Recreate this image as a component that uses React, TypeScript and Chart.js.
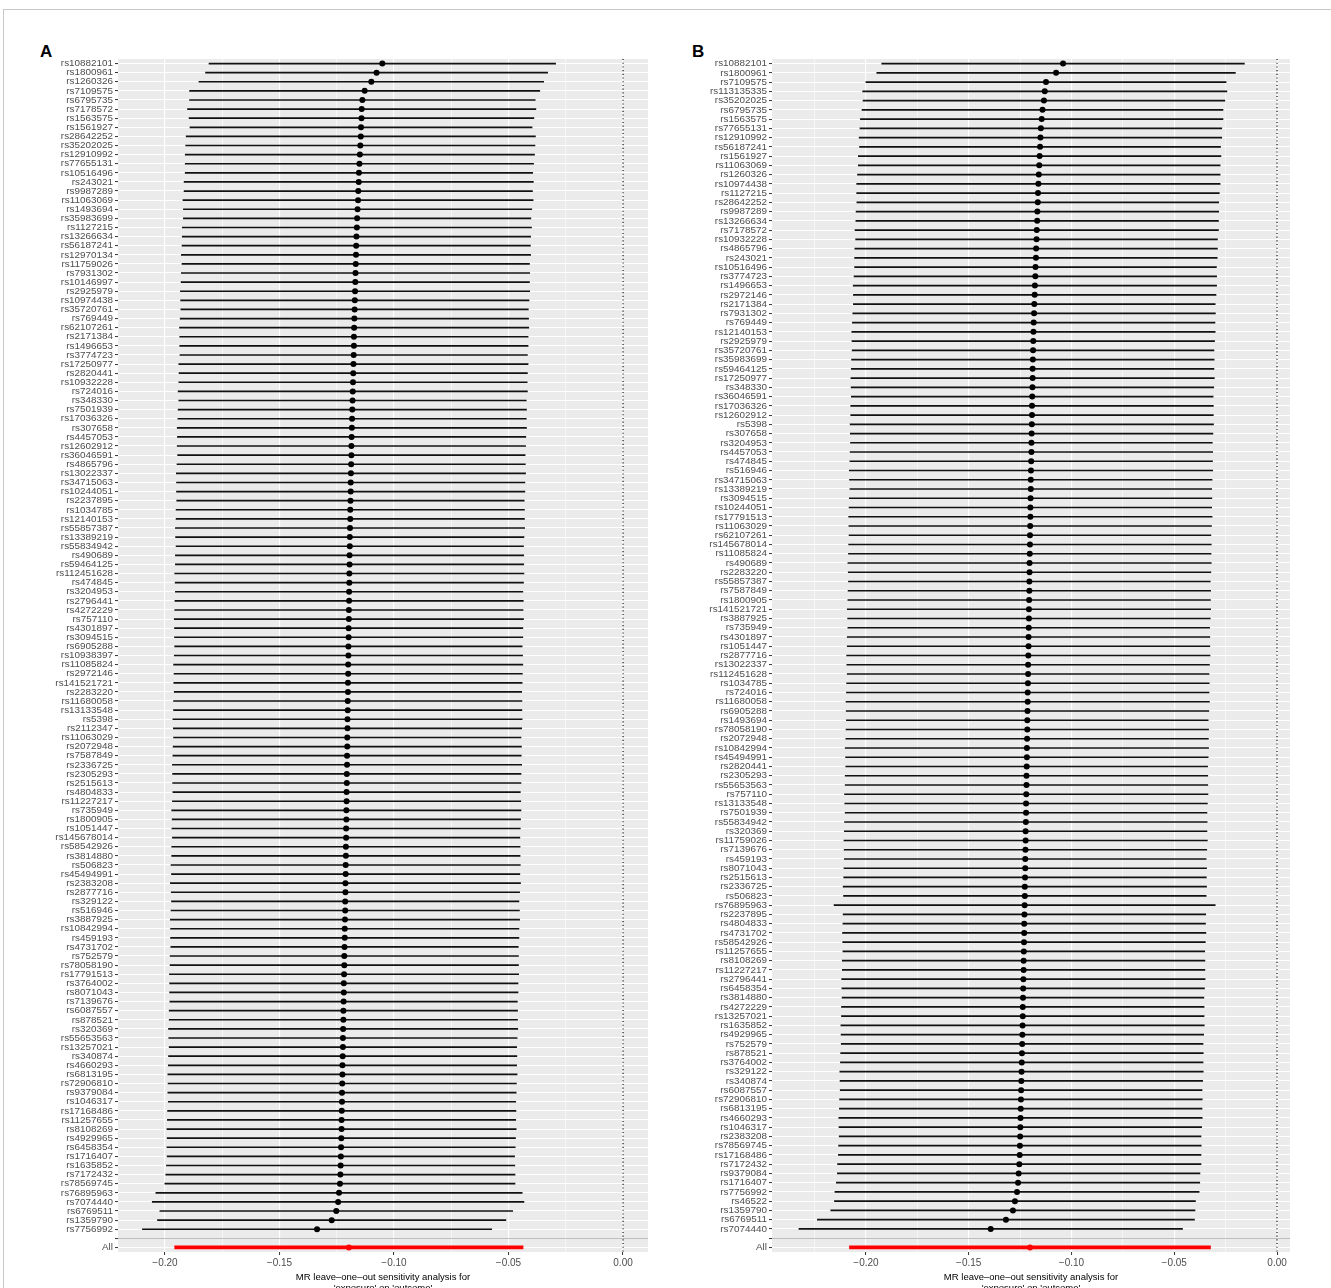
import React, { useEffect, useRef } from 'react';
import { Chart, registerables } from 'chart.js';
Chart.register(...registerables);

const FONT = '"Liberation Sans", Arial, Helvetica, sans-serif';
Chart.defaults.font.family = FONT;

const snpsA = ['rs10882101','rs1800961','rs1260326','rs7109575','rs6795735','rs7178572','rs1563575','rs1561927','rs28642252','rs35202025','rs12910992','rs77655131','rs10516496','rs243021','rs9987289','rs11063069','rs1493694','rs35983699','rs1127215','rs13266634','rs56187241','rs12970134','rs11759026','rs7931302','rs10146997','rs2925979','rs10974438','rs35720761','rs769449','rs62107261','rs2171384','rs1496653','rs3774723','rs17250977','rs2820441','rs10932228','rs724016','rs348330','rs7501939','rs17036326','rs307658','rs4457053','rs12602912','rs36046591','rs4865796','rs13022337','rs34715063','rs10244051','rs2237895','rs1034785','rs12140153','rs55857387','rs13389219','rs55834942','rs490689','rs59464125','rs112451628','rs474845','rs3204953','rs2796441','rs4272229','rs757110','rs4301897','rs3094515','rs6905288','rs10938397','rs11085824','rs2972146','rs141521721','rs2283220','rs11680058','rs13133548','rs5398','rs2112347','rs11063029','rs2072948','rs7587849','rs2336725','rs2305293','rs2515613','rs4804833','rs11227217','rs735949','rs1800905','rs1051447','rs145678014','rs58542926','rs3814880','rs506823','rs45494991','rs2383208','rs2877716','rs329122','rs516946','rs3887925','rs10842994','rs459193','rs4731702','rs752579','rs78058190','rs17791513','rs3764002','rs8071043','rs7139676','rs6087557','rs878521','rs320369','rs55653563','rs13257021','rs340874','rs4660293','rs6813195','rs72906810','rs9379084','rs1046317','rs17168486','rs11257655','rs8108269','rs4929965','rs6458354','rs1716407','rs1635852','rs7172432','rs78569745','rs76895963','rs7074440','rs6769511','rs1359790','rs7756992'];

const betaA = [-0.1051,-0.1076,-0.1099,-0.1128,-0.1138,-0.1141,-0.1142,-0.1144,-0.1145,-0.1147,
-0.1149,-0.1151,-0.1153,-0.1154,-0.1156,-0.1157,-0.1159,-0.1161,-0.1162,-0.1164,
-0.1165,-0.1166,-0.1167,-0.1168,-0.1169,-0.1170,-0.1171,-0.1172,-0.1173,-0.1174,
-0.1175,-0.1175,-0.1176,-0.1177,-0.1178,-0.1179,-0.1180,-0.1181,-0.1182,-0.1183,
-0.1184,-0.1185,-0.1186,-0.1186,-0.1187,-0.1188,-0.1189,-0.1189,-0.1190,-0.1191,
-0.1191,-0.1192,-0.1193,-0.1193,-0.1194,-0.1194,-0.1195,-0.1195,-0.1196,-0.1196,
-0.1197,-0.1197,-0.1198,-0.1198,-0.1199,-0.1199,-0.1200,-0.1200,-0.1201,-0.1201,
-0.1202,-0.1202,-0.1203,-0.1203,-0.1204,-0.1204,-0.1205,-0.1205,-0.1206,-0.1206,
-0.1207,-0.1207,-0.1208,-0.1208,-0.1209,-0.1209,-0.1210,-0.1210,-0.1211,-0.1211,
-0.1212,-0.1212,-0.1213,-0.1213,-0.1214,-0.1215,-0.1215,-0.1216,-0.1217,-0.1217,
-0.1218,-0.1219,-0.1219,-0.1220,-0.1221,-0.1221,-0.1222,-0.1223,-0.1223,-0.1224,
-0.1225,-0.1225,-0.1226,-0.1227,-0.1227,-0.1228,-0.1229,-0.1229,-0.1230,-0.1231,
-0.1232,-0.1233,-0.1234,-0.1236,-0.1240,-0.1244,-0.1252,-0.1272,-0.1336];

const seA = [0.0386,0.0381,0.0384,0.0390,0.0385,0.0388,0.0384,0.0381,0.0389,0.0389,
0.0389,0.0388,0.0387,0.0389,0.0388,0.0390,0.0388,0.0387,0.0389,0.0388,
0.0388,0.0389,0.0387,0.0388,0.0388,0.0389,0.0388,0.0387,0.0388,0.0389,
0.0388,0.0388,0.0387,0.0389,0.0388,0.0388,0.0389,0.0387,0.0388,0.0388,
0.0389,0.0388,0.0388,0.0387,0.0388,0.0389,0.0388,0.0388,0.0387,0.0388,
0.0388,0.0389,0.0388,0.0387,0.0388,0.0388,0.0389,0.0388,0.0387,0.0388,
0.0388,0.0389,0.0388,0.0388,0.0387,0.0388,0.0389,0.0388,0.0388,0.0387,
0.0388,0.0388,0.0389,0.0388,0.0387,0.0388,0.0388,0.0389,0.0388,0.0388,
0.0387,0.0388,0.0389,0.0388,0.0388,0.0387,0.0388,0.0388,0.0389,0.0388,
0.0390,0.0388,0.0387,0.0388,0.0389,0.0388,0.0388,0.0387,0.0388,0.0388,
0.0389,0.0388,0.0388,0.0387,0.0388,0.0388,0.0389,0.0388,0.0387,0.0388,
0.0388,0.0389,0.0388,0.0388,0.0387,0.0388,0.0388,0.0389,0.0388,0.0388,
0.0387,0.0388,0.0389,0.0390,0.0408,0.0414,0.0393,0.0388,0.0389];

const allBetaA = -0.1197;
const allSeA = 0.0388;

const snpsB = ['rs10882101','rs1800961','rs7109575','rs113135335','rs35202025','rs6795735','rs1563575','rs77655131','rs12910992','rs56187241','rs1561927','rs11063069','rs1260326','rs10974438','rs1127215','rs28642252','rs9987289','rs13266634','rs7178572','rs10932228','rs4865796','rs243021','rs10516496','rs3774723','rs1496653','rs2972146','rs2171384','rs7931302','rs769449','rs12140153','rs2925979','rs35720761','rs35983699','rs59464125','rs17250977','rs348330','rs36046591','rs17036326','rs12602912','rs5398','rs307658','rs3204953','rs4457053','rs474845','rs516946','rs34715063','rs13389219','rs3094515','rs10244051','rs17791513','rs11063029','rs62107261','rs145678014','rs11085824','rs490689','rs2283220','rs55857387','rs7587849','rs1800905','rs141521721','rs3887925','rs735949','rs4301897','rs1051447','rs2877716','rs13022337','rs112451628','rs1034785','rs724016','rs11680058','rs6905288','rs1493694','rs78058190','rs2072948','rs10842994','rs45494991','rs2820441','rs2305293','rs55653563','rs757110','rs13133548','rs7501939','rs55834942','rs320369','rs11759026','rs7139676','rs459193','rs8071043','rs2515613','rs2336725','rs506823','rs76895963','rs2237895','rs4804833','rs4731702','rs58542926','rs11257655','rs8108269','rs11227217','rs2796441','rs6458354','rs3814880','rs4272229','rs13257021','rs1635852','rs4929965','rs752579','rs878521','rs3764002','rs329122','rs340874','rs6087557','rs72906810','rs6813195','rs4660293','rs1046317','rs2383208','rs78569745','rs17168486','rs7172432','rs9379084','rs1716407','rs7756992','rs46522','rs1359790','rs6769511','rs7074440'];

const betaB = [-0.1041,-0.1075,-0.1124,-0.1130,-0.1134,-0.1141,-0.1145,-0.1149,-0.1151,-0.1153,
-0.1155,-0.1157,-0.1159,-0.1161,-0.1163,-0.1164,-0.1166,-0.1167,-0.1169,-0.1170,
-0.1172,-0.1173,-0.1175,-0.1176,-0.1178,-0.1179,-0.1181,-0.1182,-0.1184,-0.1185,
-0.1186,-0.1187,-0.1188,-0.1189,-0.1189,-0.1190,-0.1191,-0.1192,-0.1192,-0.1193,
-0.1194,-0.1195,-0.1195,-0.1196,-0.1197,-0.1198,-0.1198,-0.1199,-0.1200,-0.1200,
-0.1201,-0.1202,-0.1202,-0.1203,-0.1204,-0.1204,-0.1205,-0.1205,-0.1206,-0.1207,
-0.1207,-0.1208,-0.1209,-0.1209,-0.1210,-0.1211,-0.1211,-0.1212,-0.1213,-0.1213,
-0.1214,-0.1215,-0.1215,-0.1216,-0.1217,-0.1217,-0.1218,-0.1219,-0.1219,-0.1220,
-0.1221,-0.1221,-0.1222,-0.1223,-0.1223,-0.1224,-0.1225,-0.1225,-0.1226,-0.1227,
-0.1227,-0.1228,-0.1229,-0.1230,-0.1230,-0.1231,-0.1232,-0.1233,-0.1233,-0.1234,
-0.1235,-0.1236,-0.1237,-0.1237,-0.1238,-0.1239,-0.1240,-0.1241,-0.1242,-0.1243,
-0.1244,-0.1245,-0.1246,-0.1247,-0.1248,-0.1249,-0.1250,-0.1251,-0.1252,-0.1254,
-0.1257,-0.1260,-0.1265,-0.1275,-0.1285,-0.1319,-0.1393];

const seB = [0.0450,0.0445,0.0447,0.0452,0.0449,0.0448,0.0450,0.0449,0.0450,0.0448,
0.0450,0.0449,0.0450,0.0451,0.0450,0.0449,0.0450,0.0450,0.0451,0.0449,
0.0450,0.0450,0.0449,0.0450,0.0451,0.0450,0.0449,0.0450,0.0450,0.0451,
0.0450,0.0449,0.0450,0.0450,0.0451,0.0450,0.0449,0.0450,0.0450,0.0451,
0.0450,0.0449,0.0450,0.0450,0.0451,0.0450,0.0449,0.0450,0.0450,0.0451,
0.0450,0.0449,0.0450,0.0450,0.0451,0.0450,0.0449,0.0450,0.0450,0.0451,
0.0450,0.0449,0.0450,0.0450,0.0451,0.0450,0.0449,0.0450,0.0450,0.0451,
0.0450,0.0449,0.0450,0.0450,0.0451,0.0450,0.0449,0.0450,0.0450,0.0451,
0.0450,0.0449,0.0450,0.0450,0.0451,0.0450,0.0449,0.0450,0.0450,0.0451,
0.0450,0.0473,0.0450,0.0450,0.0451,0.0450,0.0449,0.0450,0.0450,0.0451,
0.0450,0.0449,0.0450,0.0450,0.0451,0.0450,0.0449,0.0450,0.0450,0.0451,
0.0450,0.0449,0.0450,0.0450,0.0451,0.0450,0.0449,0.0450,0.0450,0.0451,
0.0450,0.0451,0.0452,0.0448,0.0452,0.0468,0.0476];

const allBetaB = -0.1202;
const allSeB = 0.0448;

const xTitle = ['MR leave\u2013one\u2013out sensitivity analysis for', "'exposure' on 'outcome'"];

const isMajor = (v: number) => Math.abs(Math.round(v / 0.05) * 0.05 - v) < 1e-7;
const fmt = (v: number) => {
  const s = Math.abs(v).toFixed(2);
  return v < -1e-9 ? '\u2212' + s : s;
};

const panelBg = {
  id: 'panelBg',
  beforeDraw(chart: any) {
    const a = chart.chartArea;
    const c = chart.ctx;
    c.save();
    c.fillStyle = '#EBEBEB';
    c.fillRect(a.left, a.top, a.right - a.left, a.bottom - a.top);
    c.restore();
  },
};

const zeroLine = {
  id: 'zeroLine',
  beforeDatasetsDraw(chart: any) {
    const a = chart.chartArea;
    const x = chart.scales.x.getPixelForValue(0);
    const c = chart.ctx;
    c.save();
    c.strokeStyle = '#000000';
    c.lineWidth = 1.1;
    c.setLineDash([1.1, 2.6]);
    c.beginPath();
    c.moveTo(x, a.top);
    c.lineTo(x, a.bottom);
    c.stroke();
    c.restore();
  },
};

type PanelProps = {
  snps: string[]; beta: number[]; se: number[]; allBeta: number; allSe: number;
  xMin: number; xMax: number; left: number; top: number; width: number; height: number;
  yWidth: number; padRight: number; padTop: number; xHeight: number;
};

function Panel(p: PanelProps) {
  const ref = useRef<HTMLCanvasElement>(null);
  useEffect(() => {
    const labels = [...p.snps, '', 'All'];
    const ranges: any[] = p.snps.map((_, i) => [p.beta[i] - 1.96 * p.se[i], p.beta[i] + 1.96 * p.se[i]]);
    const allRange = [p.allBeta - 1.96 * p.allSe, p.allBeta + 1.96 * p.allSe];
    const pointColors = [...p.snps.map(() => '#000000'), '#000000', '#FF0000'];
    const chart = new Chart(ref.current as HTMLCanvasElement, {
      type: 'bar',
      data: {
        labels,
        datasets: [
          {
            type: 'line',
            data: [...p.beta, null, p.allBeta] as any,
            showLine: false,
            pointRadius: 3,
            pointHoverRadius: 3,
            pointBorderWidth: 0,
            pointBackgroundColor: pointColors,
            order: 0,
          } as any,
          {
            type: 'bar',
            data: [...p.snps.map(() => null), null, allRange] as any,
            backgroundColor: '#FF0000',
            barThickness: 3,
            grouped: false,
            order: 1,
          } as any,
          {
            type: 'bar',
            data: [...ranges, null, null] as any,
            backgroundColor: '#111111',
            barThickness: 1,
            grouped: false,
            order: 2,
          } as any,
        ],
      },
      options: {
        animation: false,
        responsive: false,
        maintainAspectRatio: false,
        indexAxis: 'y',
        events: [],
        layout: { padding: { top: p.padTop, right: p.padRight, left: 0, bottom: 0 } },
        plugins: { legend: { display: false }, tooltip: { enabled: false }, title: { display: false } },
        scales: {
          x: {
            type: 'linear',
            min: p.xMin,
            max: p.xMax,
            border: { display: false },
            grid: {
              color: '#FFFFFF',
              lineWidth: (ctx: any) => (ctx.tick && isMajor(ctx.tick.value) ? 1.1 : 0.55),
              tickColor: (ctx: any) => (ctx.tick && isMajor(ctx.tick.value) ? '#333333' : 'rgba(0,0,0,0)'),
              tickLength: 3,
              tickWidth: 1,
            },
            ticks: {
              stepSize: 0.025,
              includeBounds: false,
              autoSkip: false,
              maxRotation: 0,
              padding: 2,
              color: '#4D4D4D',
              font: { family: FONT, size: 10 },
              callback: (v: any) => (isMajor(Number(v)) ? fmt(Number(v)) : ''),
            },
            title: {
              display: true,
              text: xTitle,
              color: '#000000',
              font: { family: FONT, size: 9.5 },
              padding: { top: 0, bottom: 8 },
            },
            afterFit: (s: any) => { s.height = p.xHeight; },
          },
          y: {
            type: 'category',
            offset: true,
            border: { display: false },
            grid: {
              offset: false,
              color: (ctx: any) => (labels[ctx.index] === '' ? '#BEBEBE' : '#FFFFFF'),
              lineWidth: 1.1,
              tickColor: '#333333',
              tickLength: 3,
              tickWidth: 1,
            },
            ticks: {
              autoSkip: false,
              padding: 2,
              color: '#4D4D4D',
              font: { family: FONT, size: 9.9 },
            },
            afterFit: (s: any) => { s.width = p.yWidth; },
          },
        },
      } as any,
      plugins: [panelBg, zeroLine],
    });
    return () => chart.destroy();
  }, []);
  return (
    <canvas
      ref={ref}
      width={p.width}
      height={p.height}
      style={{ position: 'absolute', left: p.left, top: p.top, width: p.width, height: p.height }}
    />
  );
}

export default function App() {
  return (
    <div style={{ position: 'fixed', left: 0, top: 0, width: 1331, height: 1288, overflow: 'hidden', background: '#FFFFFF' }}>
      <div style={{ position: 'absolute', left: 3, top: 9, width: 1360, height: 1320, border: '1px solid #C8C8C8' }} />
      <div style={{ position: 'absolute', left: 40, top: 42, fontFamily: FONT, fontWeight: 'bold', fontSize: 17, lineHeight: '20px', color: '#000' }}>A</div>
      <div style={{ position: 'absolute', left: 692, top: 42, fontFamily: FONT, fontWeight: 'bold', fontSize: 17, lineHeight: '20px', color: '#000' }}>B</div>
      <Panel snps={snpsA} beta={betaA} se={seA} allBeta={allBetaA} allSe={allSeA}
        xMin={-0.2205} xMax={0.0109} left={30} top={40} width={630} height={1262}
        yWidth={88} padRight={12} padTop={19} xHeight={50} />
      <Panel snps={snpsB} beta={betaB} se={seB} allBeta={allBetaB} allSe={allSeB}
        xMin={-0.2457} xMax={0.0063} left={682} top={40} width={620} height={1262}
        yWidth={90} padRight={12} padTop={19} xHeight={50} />
    </div>
  );
}
